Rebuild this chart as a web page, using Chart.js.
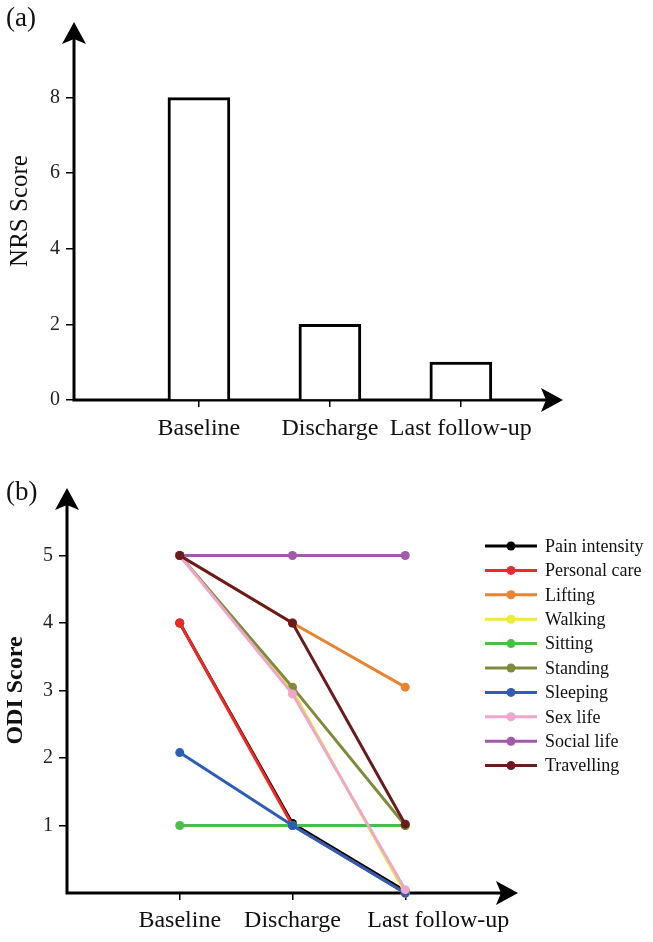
<!DOCTYPE html>
<html lang="en">
<head>
<meta charset="UTF-8">
<title>NRS and ODI scores</title>
<style>
  body{margin:0;background:#fff;}
  canvas{position:absolute;left:0;}
  #nrs{top:0;}
  #odi{top:460px;}
</style>
</head>
<body>
<canvas id="nrs" width="653" height="455"></canvas>
<canvas id="odi" width="653" height="482"></canvas>

<script src="https://cdn.jsdelivr.net/npm/chart.js"></script>
<script>
// data
const timepoints = ['Baseline', 'Discharge', 'Last follow-up']
const nrsScores = [8, 2, 1]
const nrsTicks = [0, 2, 4, 6, 8]
const odiTicks = [1, 2, 3, 4, 5]

const odiItems = ['Pain intensity', 'Personal care', 'Lifting', 'Walking', 'Sitting',
                  'Standing', 'Sleeping', 'Sex life', 'Social life', 'Travelling']
const painIntensity = [4, 1.03, 0.03]
const personalCare  = [4, 1, 0]
const lifting       = [5, 4, 3.05]
const walking       = [5, 3, 0]
const sitting       = [1, 1, 1]
const standing      = [5, 3.05, 1]
const sleeping      = [2.08, 1, 0]
const sexLife       = [5, 2.95, 0.05]
const socialLife    = [5, 5, 5]
const travelling    = [5, 4, 1.02]
const odiSeries = [painIntensity, personalCare, lifting, walking, sitting,
                   standing, sleeping, sexLife, socialLife, travelling]
const odiColors = ['#000000', '#ee2a26', '#e8832f', '#eeea3c', '#4cbd4a',
                   '#7f8b3c', '#2b5fb5', '#efa6cb', '#a259ab', '#6a1b1c']

const serif = 'Liberation Serif'

// axis lines with arrow heads, drawn under the marks
const arrowAxes = {
  id: 'arrowAxes',
  beforeDatasetsDraw(chart) {
    const {ctx, chartArea: a} = chart
    ctx.save()
    ctx.strokeStyle = '#000'
    ctx.fillStyle = '#000'
    ctx.lineWidth = 3
    ctx.beginPath()
    ctx.moveTo(a.left, a.top + 14)
    ctx.lineTo(a.left, a.bottom)
    ctx.lineTo(a.right - 14, a.bottom)
    ctx.stroke()
    ctx.beginPath()
    ctx.moveTo(a.left, a.top)
    ctx.lineTo(a.left - 12, a.top + 22)
    ctx.lineTo(a.left, a.top + 17)
    ctx.lineTo(a.left + 12, a.top + 22)
    ctx.closePath()
    ctx.fill()
    ctx.beginPath()
    ctx.moveTo(a.right, a.bottom)
    ctx.lineTo(a.right - 22, a.bottom - 12)
    ctx.lineTo(a.right - 17, a.bottom)
    ctx.lineTo(a.right - 22, a.bottom + 12)
    ctx.closePath()
    ctx.fill()
    ctx.restore()
  }
}

const panelLabel = {
  id: 'panelLabel',
  afterDraw(chart, args, opts) {
    const ctx = chart.ctx
    ctx.save()
    ctx.font = '27px "' + serif + '"'
    ctx.fillStyle = '#111'
    ctx.textBaseline = 'alphabetic'
    ctx.fillText(opts.text, opts.x, opts.y)
    ctx.restore()
  }
}

// the last category label sits a bit right of its tick in panel (b)
const nudgeLastLabel = {
  id: 'nudgeLastLabel',
  beforeDraw(chart, args, opts) {
    if (!opts.dx) return
    const items = chart.scales.x.getLabelItems(chart.chartArea)
    const last = items[items.length - 1]
    if (last && !last._nudged) {
      last.options.translation[0] += opts.dx
      last._nudged = true
    }
  }
}

// legend with a line and a dot for each item
const lineLegend = {
  id: 'lineLegend',
  afterDraw(chart, args, opts) {
    if (!opts.show) return
    const ctx = chart.ctx
    ctx.save()
    chart.data.datasets.forEach((ds, i) => {
      const y = opts.top + i * opts.step
      ctx.strokeStyle = ds.borderColor
      ctx.lineWidth = 3
      ctx.beginPath()
      ctx.moveTo(opts.left, y)
      ctx.lineTo(opts.left + 52, y)
      ctx.stroke()
      ctx.fillStyle = ds.borderColor
      ctx.beginPath()
      ctx.arc(opts.left + 26, y, 4.5, 0, Math.PI * 2)
      ctx.fill()
      ctx.fillStyle = '#111'
      ctx.font = '18px "' + serif + '"'
      ctx.textBaseline = 'middle'
      ctx.fillText(ds.label, opts.left + 60, y + 1)
    })
    ctx.restore()
  }
}

function xAxis(min, max, h, pad) {
  return {
    type: 'linear', min: min, max: max, offset: false,
    afterBuildTicks: s => { s.ticks = timepoints.map((t, i) => ({value: i + 1})) },
    ticks: {callback: v => timepoints[v - 1], font: {family: serif, size: 24}, color: '#111',
            padding: pad, maxRotation: 0, autoSkip: false},
    grid: {offset: false, drawOnChartArea: false, tickLength: 7, color: '#000', lineWidth: 1.5},
    border: {display: false},
    afterFit: s => { s.height = h }
  }
}

function yAxis(max, tickList, w, title, bold, size, tpad) {
  return {
    min: 0, max: max,
    afterBuildTicks: s => { s.ticks = tickList.map(v => ({value: v})) },
    ticks: {font: {family: serif, size: 20}, color: '#222', padding: 6},
    grid: {drawOnChartArea: false, tickLength: 8, color: '#000', lineWidth: 1.5},
    border: {display: false},
    title: {display: true, text: title, color: '#111', padding: {top: tpad, bottom: 0},
            font: {family: serif, size: size, weight: bold ? 'bold' : 'normal'}},
    afterFit: s => { s.width = w }
  }
}

new Chart(document.getElementById('nrs'), {
  type: 'bar',
  data: {
    datasets: [{
      label: 'NRS Score',
      data: nrsScores.map((v, i) => ({x: i + 1, y: v})),
      backgroundColor: '#fff',
      borderColor: '#000',
      borderWidth: 3,
      barThickness: 62
    }]
  },
  options: {
    responsive: false,
    animation: false,
    layout: {padding: {top: 22, right: 90, left: 0, bottom: 0}},
    scales: {
      x: xAxis(0.046, 3.78, 55, 7),
      y: yAxis(10, nrsTicks, 74, 'NRS Score', false, 25, 5)
    },
    plugins: {
      legend: {display: false},
      tooltip: {enabled: false},
      panelLabel: {text: '(a)', x: 6, y: 26},
      nudgeLastLabel: {dx: 0},
      lineLegend: {show: false}
    }
  },
  plugins: [arrowAxes, panelLabel, nudgeLastLabel, lineLegend]
})

new Chart(document.getElementById('odi'), {
  type: 'line',
  data: {
    datasets: odiItems.map((name, i) => ({
      label: name,
      data: odiSeries[i].map((v, j) => ({x: j + 1, y: v})),
      borderColor: odiColors[i],
      backgroundColor: odiColors[i],
      pointBackgroundColor: odiColors[i],
      pointBorderWidth: 0,
      pointRadius: 4.5,
      borderWidth: 3,
      tension: 0,
      clip: false,
      order: odiItems.length - i
    }))
  },
  options: {
    responsive: false,
    animation: false,
    layout: {padding: {top: 28, right: 135, left: 0, bottom: 0}},
    scales: {
      x: xAxis(0, 4, 49, 6),
      y: yAxis(6, odiTicks, 67, 'ODI Score', true, 24, 1)
    },
    plugins: {
      legend: {display: false},
      tooltip: {enabled: false},
      panelLabel: {text: '(b)', x: 6, y: 40},
      nudgeLastLabel: {dx: 33},
      lineLegend: {show: true, left: 485, top: 86, step: 24.4}
    }
  },
  plugins: [arrowAxes, panelLabel, nudgeLastLabel, lineLegend]
})
</script>
</body>
</html>
